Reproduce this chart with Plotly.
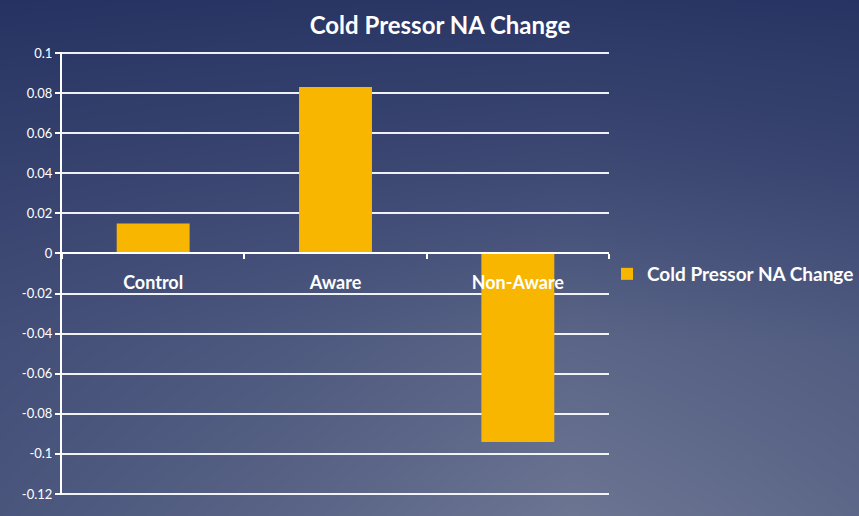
import plotly.graph_objects as go

# Chart data
categories = ["Control", "Aware", "Non-Aware"]
na_change = [0.015, 0.083, -0.094]
series_name = "Cold Pressor NA Change"
y_ticks = [0.1, 0.08, 0.06, 0.04, 0.02, 0, -0.02, -0.04, -0.06, -0.08, -0.1, -0.12]
y_tick_text = ["0.1", "0.08", "0.06", "0.04", "0.02", "0", "-0.02", "-0.04",
               "-0.06", "-0.08", "-0.1", "-0.12"]

W, H = 859, 516
FONT = "Lato"

# plot area in pixels (top = 0.1, bottom = -0.12)
px_left, px_right, px_top, px_bottom = 62, 609, 53, 494
y_min, y_max = -0.12, 0.1
pad = 0.0006  # keep the edge gridlines visible
px_per_unit = (px_bottom - px_top) / (y_max - y_min)
top_px = px_top - pad * px_per_unit
bot_px = px_bottom + pad * px_per_unit
x_dom = [px_left / W, px_right / W]
y_dom = [1 - bot_px / H, 1 - top_px / H]
y_range = [y_min - pad, y_max + pad]
zero_pos = y_dom[0] + (0 - y_range[0]) / (y_range[1] - y_range[0]) * (y_dom[1] - y_dom[0])

fig = go.Figure()

# background shading: a small smoothed grid spanning the whole page
bg_z = [
    [0.55, 0.75, 1.00, 0.80],
    [0.45, 0.60, 0.78, 0.65],
    [0.25, 0.32, 0.38, 0.30],
    [0.00, 0.04, 0.06, 0.02],
]
fig.add_trace(go.Heatmap(
    z=bg_z, x=[0, 1, 2, 3], y=[0, 1, 2, 3], zsmooth="best",
    colorscale=[[0, "#263261"], [0.5, "#46527a"], [1, "#6c7592"]],
    showscale=False, hoverinfo="skip", xaxis="x", yaxis="y",
))

fig.add_trace(go.Bar(
    x=categories, y=na_change, name=series_name,
    marker=dict(color="#f8b600", line=dict(width=0)),
    width=0.4, xaxis="x2", yaxis="y2", showlegend=True,
))

fig.update_layout(
    width=W, height=H,
    margin=dict(l=0, r=0, t=0, b=0, pad=0, autoexpand=False),
    paper_bgcolor="#263261",
    plot_bgcolor="rgba(0,0,0,0)",
    font=dict(family=FONT, color="white"),
    title=dict(text="<b>Cold Pressor NA Change</b>", x=440 / W, xanchor="center",
               y=1 - 26 / H, yanchor="middle", automargin=False,
               font=dict(family=FONT, size=24, color="white")),
    xaxis=dict(domain=[0, 1], range=[0, 3], visible=False, fixedrange=True,
               automargin=False),
    yaxis=dict(domain=[0, 1], range=[0, 3], visible=False, fixedrange=True,
               automargin=False),
    xaxis2=dict(
        domain=x_dom, anchor="free", position=zero_pos, automargin=False,
        type="category", showgrid=False, zeroline=False,
        showline=True, linecolor="white", linewidth=2,
        ticks="outside", tickson="boundaries", ticklen=5, tickwidth=2,
        tickcolor="white", ticklabelstandoff=13,
        tickfont=dict(family=FONT, size=18, color="white", weight="bold"),
    ),
    yaxis2=dict(
        domain=y_dom, anchor="x2", range=y_range, automargin=False,
        tickvals=y_ticks, ticktext=y_tick_text,
        showgrid=True, gridcolor="rgba(255,255,255,0.92)", gridwidth=2,
        zeroline=False, showline=True, linecolor="white", linewidth=2,
        ticks="outside", ticklen=5, tickwidth=2, tickcolor="white",
        tickfont=dict(family=FONT, size=13, color="white"),
    ),
    legend=dict(
        x=(px_right - 2) / W, xanchor="left", y=1 - 274 / H, yanchor="middle",
        bgcolor="rgba(0,0,0,0)", borderwidth=0,
        font=dict(family=FONT, size=19, color="white", weight="bold"),
        itemwidth=30,
    ),
    showlegend=True,
)

fig.write_html("out.html")
